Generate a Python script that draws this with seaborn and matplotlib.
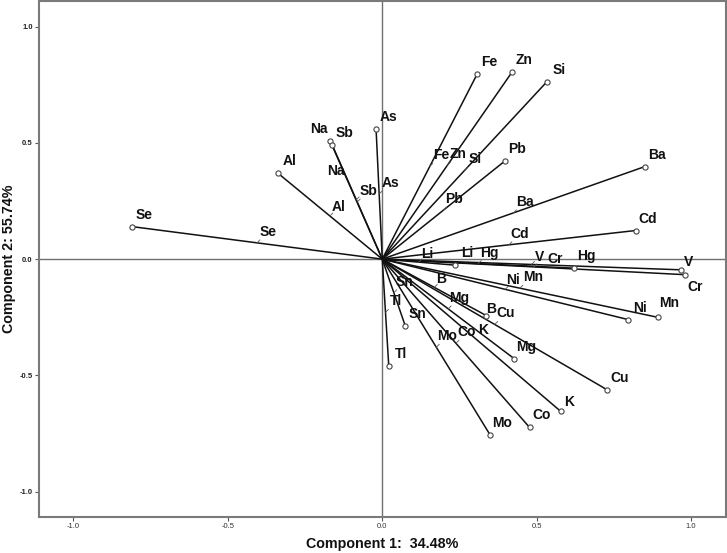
import pandas as pd
import seaborn as sns
import matplotlib.pyplot as plt

# 元素名称及两个主成分的载荷
elements = ['Se', 'Al', 'Na', 'Sb', 'As', 'Fe', 'Zn', 'Si', 'Pb', 'Ba', 'Cd', 'Li', 'Hg',
            'V', 'Cr', 'Ni', 'Mn', 'B', 'Cu', 'Mg', 'K', 'Co', 'Mo', 'Sn', 'Tl']
comp1 = [-0.811, -0.339, -0.169, -0.162, -0.020, 0.308, 0.421, 0.533, 0.396, 0.850,
         0.820, 0.236, 0.621, 0.966, 0.981, 0.796, 0.891, 0.337, 0.728, 0.427,
         0.578, 0.477, 0.350, 0.075, 0.021]
comp2 = [0.140, 0.371, 0.509, 0.491, 0.560, 0.798, 0.806, 0.763, 0.421, 0.398,
         0.123, -0.026, -0.039, -0.046, -0.067, -0.260, -0.250, -0.243, -0.562, -0.428,
         -0.655, -0.724, -0.758, -0.289, -0.458]

x_label = 'Component 1:  34.48%'
y_label = 'Component 2: 55.74%'
ticks = [-1.0, -0.5, 0.0, 0.5, 1.0]

# 标签偏移（像素），默认在右上方
default_off = (12, 12)
end_off = {'Na': (-11, 12), 'Cr': (10, -12), 'V': (8, 8), 'B': (5, 7),
           'K': (8, 9), 'Mn': (12, 14)}
mid_off = {'Na': (-20, 29), 'Cr': (21, 8), 'K': (12, 5), 'V': (8, 7),
           'B': (7, 8), 'Li': (9, 8), 'Al': (9, 9), 'Ni': (8, 9), 'Mn': (13, 11)}


def main():
    sns.set_style("white")
    plt.rcParams['font.family'] = ['Liberation Sans', 'DejaVu Sans']

    # 每个元素一条从原点出发的线段
    rows = []
    for el, x, y in zip(elements, comp1, comp2):
        rows.append({'element': el, 'x': 0.0, 'y': 0.0})
        rows.append({'element': el, 'x': x, 'y': y})
    lines = pd.DataFrame(rows)
    ends = pd.DataFrame({'element': elements, 'x': comp1, 'y': comp2})

    fig = plt.figure(figsize=(7.27, 5.53), dpi=100)
    ax = fig.add_axes([39 / 727, 1 - 517 / 553, 686.5 / 727, 516 / 553])

    ax.axhline(0, color='#707070', lw=1.0, zorder=1)
    ax.axvline(0, color='#707070', lw=1.0, zorder=1)

    sns.lineplot(data=lines, x='x', y='y', units='element', estimator=None, sort=False,
                 color='#111111', lw=1.1, ax=ax, zorder=2)
    sns.scatterplot(data=ends, x='x', y='y', marker='o', s=14, color='white',
                    edgecolor='#444444', linewidth=0.8, ax=ax, zorder=3)

    for el, x, y in zip(elements, comp1, comp2):
        # 端点标签
        ax.annotate(el, xy=(x, y), xytext=end_off.get(el, default_off),
                    textcoords='offset pixels', ha='center', va='center',
                    fontsize=10, fontweight='bold', color='#111111')
        # 中点小引线和标签
        mx, my = x / 2, y / 2
        ax.annotate('', xy=(mx, my), xytext=(3, 3), textcoords='offset pixels',
                    arrowprops=dict(arrowstyle='-', lw=0.6, color='#555555',
                                    shrinkA=0, shrinkB=0))
        ax.annotate(el, xy=(mx, my), xytext=mid_off.get(el, (11, 11)),
                    textcoords='offset pixels', ha='center', va='center',
                    fontsize=10, fontweight='bold', color='#111111')

    ax.set_xlim(-1.111, 1.111)
    ax.set_ylim(-1.109, 1.110)
    ax.set_xticks(ticks)
    ax.set_yticks(ticks)
    ax.set_xticklabels([f'{t:.1f}' for t in ticks], fontsize=5.5, color='#333333')
    ax.set_yticklabels([f'{t:.1f}' for t in ticks], fontsize=5.5, color='#222222',
                       fontweight='bold')
    ax.tick_params(axis='both', direction='out', length=3, width=0.8, color='#555555',
                   pad=1.5, left=True, bottom=True)

    for side in ['left', 'bottom', 'top', 'right']:
        ax.spines[side].set_visible(True)
        ax.spines[side].set_color('#7a7a7a')
        ax.spines[side].set_linewidth(1.5)

    ax.set_xlabel(x_label, fontsize=10.3, fontweight='bold', color='#111111')
    ax.set_ylabel(y_label, fontsize=10.3, fontweight='bold', color='#111111')
    ax.xaxis.set_label_coords(0.5, -0.039)
    ax.yaxis.set_label_coords(-0.034, 0.5)

    fig.savefig('out.png', dpi=100)


if __name__ == '__main__':
    main()
